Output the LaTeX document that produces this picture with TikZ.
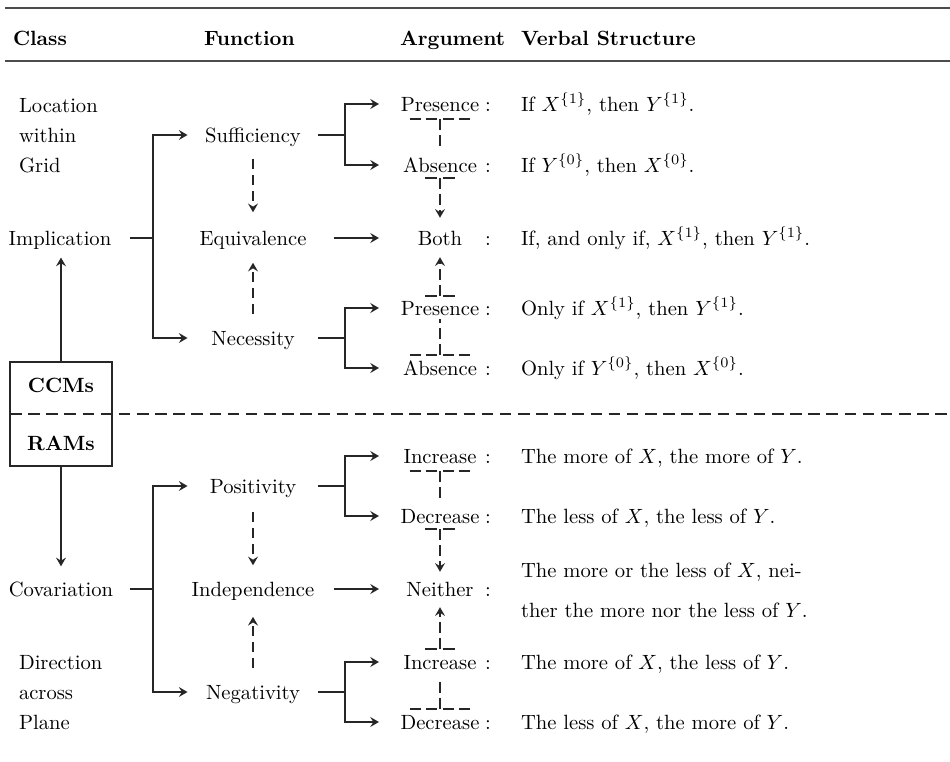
\documentclass[tikz,border=0pt]{standalone}
\usetikzlibrary{arrows.meta,calc}
\begin{document}
\begin{tikzpicture}[x=0.485pt,y=-0.485pt,
  every node/.style={inner sep=0pt, outer sep=0pt, text height=7pt, text depth=0pt},
  line/.style={draw=black!85, line width=0.85pt},
  rulel/.style={draw=black!70, line width=1pt},
  tip/.style={-{Stealth[length=4.2pt,width=4.8pt,inset=1.5pt]}},
  arr/.style={line, tip},
  vd/.style={line, dash pattern=on 5pt off 2.8pt},
  vdarr/.style={vd, tip},
  sepl/.style={line, dash pattern=on 5.6pt off 3.2pt},
  longd/.style={line, dash pattern=on 5.3pt off 2.65pt},
  shortd/.style={line, dash pattern=on 5.8pt off 2.9pt},
  hd/.style={anchor=west, font=\bfseries},
  cls/.style={anchor=west},
  fn/.style={minimum width=63.5pt},
  ag/.style={minimum width=59.2pt},
  vb/.style={anchor=west}
]
\useasboundingbox (0,0) rectangle (950,762);
\draw[rulel] (5,8) -- (950,8);
\draw[rulel] (5,61) -- (950,61);

% headers
\node[hd] (hclass) at (13,38) {Class};
\node[hd] (hfun) at (204,38) {Function};
\node[hd] (harg) at (400,38) {Argument};
\node[hd] (hverb) at (521,38) {Verbal Structure};

% class column
\node[cls] (loc1) at (19,105) {Location};
\node[cls] (loc2) at (19,135) {within};
\node[cls] (loc3) at (19,165) {Grid};
\node (impl) at (60,238) {Implication};
\node[draw=black!85, line width=0.85pt, minimum width=49.5pt, minimum height=50.4pt] (box) at (61,414) {};
\node[font=\bfseries] (ccm) at (61,385) {CCMs};
\node[font=\bfseries] (ram) at (61,443) {RAMs};
\node (cov) at (61,589) {Covariation};
\node[cls] (dir1) at (19,662) {Direction};
\node[cls] (dir2) at (19,692) {across};
\node[cls] (dir3) at (19,722) {Plane};

% function column
\node[fn] (suf) at (253,135) {Sufficiency};
\node[fn] (equ) at (253,238) {Equivalence};
\node[fn] (nec) at (253,338) {Necessity};
\node[fn] (pos) at (253,486) {Positivity};
\node[fn] (ind) at (253,589) {Independence};
\node[fn] (neg) at (253,692) {Negativity};

% argument column
\node[ag] (a1) at (440,104) {Presence};
\node[ag] (a2) at (440,165) {Absence};
\node[ag] (a3) at (440,238) {Both};
\node[ag] (a4) at (440,308) {Presence};
\node[ag] (a5) at (440,368) {Absence};
\node[ag] (a6) at (440,456) {Increase};
\node[ag] (a7) at (440,516) {Decrease};
\node[ag] (a8) at (440,589) {Neither};
\node[ag] (a9) at (440,662) {Increase};
\node[ag] (a10) at (440,722) {Decrease};
\foreach \i in {1,...,10} \node (c\i) at (a\i.center -| 488,0) {:};

% verbal structure
\node[vb] (v1) at (521,104) {If $X^{\{1\}}$, then $Y^{\{1\}}$.};
\node[vb] (v2) at (521,165) {If $Y^{\{0\}}$, then $X^{\{0\}}$.};
\node[vb] (v3) at (521,238) {If, and only if, $X^{\{1\}}$, then $Y^{\{1\}}$.};
\node[vb] (v4) at (521,308) {Only if $X^{\{1\}}$, then $Y^{\{1\}}$.};
\node[vb] (v5) at (521,368) {Only if $Y^{\{0\}}$, then $X^{\{0\}}$.};
\node[vb] (v6) at (521,456) {The more of $X$, the more of $Y$.};
\node[vb] (v7) at (521,516) {The less of $X$, the less of $Y$.};
\node[vb] (v8a) at (521,570) {The more or the less of $X$, nei-};
\node[vb] (v8b) at (521,610) {ther the more nor the less of $Y$.};
\node[vb] (v9) at (521,662) {The more of $X$, the less of $Y$.};
\node[vb] (v10) at (521,722) {The less of $X$, the more of $Y$.};

% separator
\draw[sepl] (box.west) -- (box.west -| 950,0);

% class connectors
\draw[arr, shorten >=6pt] (box.north) -- (box.north |- impl.south);
\draw[arr, shorten >=7.5pt] (box.south) -- (box.south |- cov.north);
\coordinate (ji) at (153,238);
\coordinate (jc) at (153,589);
\draw[line, shorten <=9pt] (impl.east) -- (ji);
\draw[arr] (ji) |- (suf);
\draw[arr] (ji) |- (nec);
\draw[line, shorten <=8pt] (cov.east) -- (jc);
\draw[arr] (jc) |- (pos);
\draw[arr] (jc) |- (neg);

% function connectors
\coordinate (js) at (345,135);
\coordinate (jn) at (345,338);
\coordinate (jp) at (345,486);
\coordinate (jg) at (345,692);
\draw[line] (suf.east) -- (js);
\draw[arr] (js) |- (a1);
\draw[arr] (js) |- (a2);
\draw[arr, shorten <=7.3pt] (equ.east) -- (a3);
\draw[line] (nec.east) -- (jn);
\draw[arr] (jn) |- (a4);
\draw[arr] (jn) |- (a5);
\draw[line] (pos.east) -- (jp);
\draw[arr] (jp) |- (a6);
\draw[arr] (jp) |- (a7);
\draw[arr, shorten <=7.3pt] (ind.east) -- (a8);
\draw[line] (neg.east) -- (jg);
\draw[arr] (jg) |- (a9);
\draw[arr] (jg) |- (a10);

% function dashed arrows
\draw[vdarr, shorten <=8pt, shorten >=9pt] (suf.south) -- (equ.north);
\draw[vdarr, shorten <=8pt, shorten >=8.5pt] (nec.north) -- (equ.south);
\draw[vdarr, shorten <=9pt, shorten >=8pt] (pos.south) -- (ind.north);
\draw[vdarr, shorten <=8pt, shorten >=10pt] (neg.north) -- (ind.south);

% argument dashed structures (upper)
\draw[longd] ($(a1.south)+(-30,8)$) -- ($(a1.south)+(30,8)$);
\draw[vd] ($(a1.south)+(0,8)$) -- ($(a2.north)+(0,-10)$);
\draw[shortd] ($(a2.south)+(-15,6)$) -- ($(a2.south)+(15,6)$);
\draw[vdarr] ($(a2.south)+(0,6)$) -- ($(a3.north)+(0,-13)$);
\draw[vdarr] ($(a4.north)+(0,-5)$) -- ($(a3.south)+(0,12)$);
\draw[shortd] ($(a4.north)+(-15,-5)$) -- ($(a4.north)+(15,-5)$);
\draw[vd] ($(a5.north)+(0,-6)$) -- ($(a4.south)+(0,4)$);
\draw[longd] ($(a5.north)+(-30,-6)$) -- ($(a5.north)+(30,-6)$);

% argument dashed structures (lower)
\draw[longd] ($(a6.south)+(-30,8)$) -- ($(a6.south)+(30,8)$);
\draw[vd] ($(a6.south)+(0,8)$) -- ($(a7.north)+(0,-10)$);
\draw[shortd] ($(a7.south)+(-15,6)$) -- ($(a7.south)+(15,6)$);
\draw[vdarr] ($(a7.south)+(0,6)$) -- ($(a8.north)+(0,-10)$);
\draw[vdarr] ($(a9.north)+(0,-6)$) -- ($(a8.south)+(0,11)$);
\draw[shortd] ($(a9.north)+(-15,-6)$) -- ($(a9.north)+(15,-6)$);
\draw[vd] ($(a10.north)+(0,-6)$) -- ($(a9.south)+(0,8)$);
\draw[longd] ($(a10.north)+(-30,-6)$) -- ($(a10.north)+(30,-6)$);
\end{tikzpicture}
\end{document}
